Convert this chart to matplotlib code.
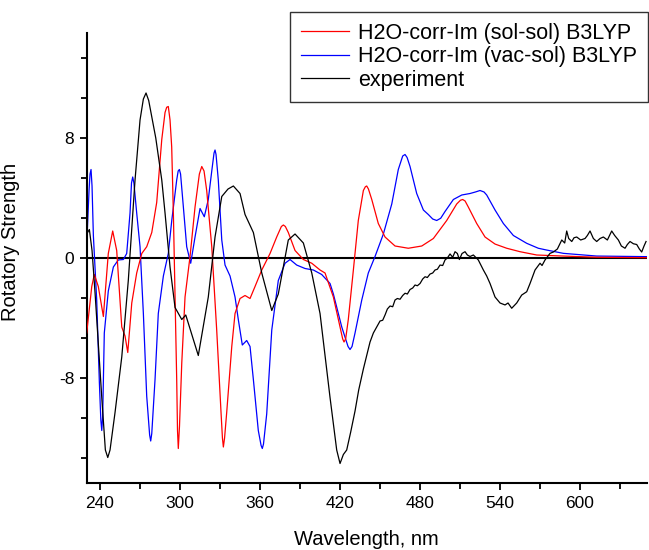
import matplotlib
matplotlib.use("Agg")
import matplotlib.pyplot as plt
from matplotlib.ticker import MultipleLocator, FixedLocator

# ---------------- data ----------------
wl_red = [230.0, 233.8, 235.7, 238.7, 242.5, 246.2, 249.5, 252.5, 256.3, 258.75,
          260.8, 263.8, 267.5, 271.3, 275.0, 278.8, 282.5, 286.3, 288.75, 290.0, 291.2,
          292.5, 293.75, 295.0, 297.5, 298.1, 298.7, 299.6, 301.3, 303.75, 307.5, 311.25,
          314.5, 316.3, 318.0, 320.0, 323.8,
          327.5, 330.75, 331.8, 332.5, 333.4, 335.0, 338.8, 341.25, 345.0, 348.75, 352.5, 356.25,
          361.3, 367.5, 372.5, 376.0, 377.5, 379.0, 381.2, 386.25, 392.5, 398.8, 405.0, 408.75,
          415.0, 420.0, 422.0, 423.0, 424.2, 426.2, 430.0, 433.7, 437.5, 439.0, 440.0, 441.3,
          443.8, 448.7,
          453.75, 461.25, 471.2, 481.3, 490.0, 500.0, 507.5, 510.3, 512.0, 513.8, 516.2, 522.5,
          528.75, 536.25, 545.0, 555.0, 567.5, 587.25, 612.5, 650.0]
rs_red = [-5.0, -1.9, -1.1, -1.9, -3.9, 0.3, 1.8, 0.5, -4.6, -5.2,
          -6.3, -3.0, -1.0, 0.3, 0.75, 1.7, 3.7, 7.9, 9.7, 10.05, 10.1,
          9.2, 7.4, 3.0, -8.1, -11.5, -12.7, -11.2, -7.0, -2.6, 0.1, 3.4,
          5.6, 6.1, 5.8, 4.5, 0.75,
          -4.8, -10.3, -12.0, -12.6, -12.0, -10.3, -5.9, -3.7, -2.7, -2.5, -2.7, -1.9,
          -0.8, 0.3, 1.4, 2.1, 2.2, 2.1, 1.7, 0.5, -0.1, -0.35, -0.8, -1.0,
          -2.6, -4.6, -5.4, -5.6, -5.4, -4.1, -0.8, 2.5, 4.5, 4.75, 4.8, 4.6,
          3.9, 2.3,
          1.4, 0.8, 0.65, 0.8, 1.3, 2.5, 3.6, 3.85, 3.9, 3.8, 3.4, 2.3,
          1.4, 0.93, 0.65, 0.42, 0.2, 0.13, 0.05, 0.02]

wl_blue = [230.5, 231.75, 232.5, 233.25, 234.0, 235.0, 237.5, 239.5, 240.6, 241.3, 242.0,
           243.2, 246.2, 250.0,
           253.7, 257.5, 260.0, 262.5, 263.6, 264.5, 265.4, 267.5, 270.0, 272.5, 275.0, 277.2,
           278.0, 278.8,
           281.25, 283.7, 287.5, 291.2, 293.8, 297.5, 298.6, 299.5, 300.4, 302.5, 305.0, 308.0,
           311.25, 315.0, 318.2, 321.2, 323.8, 325.5, 326.25, 327.0, 328.7, 331.3, 333.75, 337.5,
           341.25, 343.7, 346.7, 350.0, 352.5, 355.0, 358.7, 360.8, 361.7, 362.6, 365.0, 368.8,
           373.7, 378.75, 382.5, 387.5, 393.75, 400.0, 406.25, 412.5, 415.0, 421.3,
           426.0, 427.5, 429.0, 431.25, 436.3, 441.2, 446.25, 452.5, 458.8, 463.7, 467.0,
           468.75, 470.3, 472.5,
           477.5, 482.5, 486.2, 489.5, 492.5, 495.5, 498.75, 505.0, 511.3, 517.5, 521.5, 525.0,
           528.0, 530.0,
           536.25, 542.5, 550.0, 560.0, 568.7, 575.0, 587.5, 612.5, 650.0]
rs_blue = [1.9, 4.5, 5.6, 5.9, 4.8, 1.5, -2.8, -8.3, -10.8, -11.5, -10.5,
           -5.0, -2.2, -0.6,
           -0.13, -0.1, 0.3, 3.0, 5.0, 5.4, 5.0, 3.0, 0.75, -3.7, -9.2, -11.8,
           -12.2, -11.7,
           -8.1, -3.7, -1.2, 0.3, 2.5, 5.2, 5.8, 5.9, 5.6, 3.4, 0.75, -0.35,
           1.4, 3.3, 2.75, 3.9, 5.8, 7.0, 7.2, 6.9, 5.2, 1.2, -0.47, -1.2,
           -2.6, -4.1, -5.8, -5.5, -5.9, -8.1, -11.5, -12.5, -12.7, -12.4, -10.4, -4.8,
           -1.5, -0.35, -0.1, -0.47, -0.7, -0.8, -1.1, -1.7, -2.4, -4.6,
           -5.9, -6.1, -5.9, -5.0, -2.8, -1.0, 0.1, 1.6, 3.6, 5.9, 6.8,
           6.9, 6.7, 6.1,
           4.3, 3.2, 2.9, 2.6, 2.5, 2.65, 3.1, 3.9, 4.2, 4.3, 4.4, 4.5,
           4.4, 4.2,
           3.2, 2.3, 1.5, 0.98, 0.65, 0.53, 0.31, 0.13, 0.09]

wl_exp = [230.0, 232.0, 234.0, 236.25, 241.3, 244.0, 245.8, 247.5, 251.25, 256.3, 261.2,
          266.25, 270.0, 272.5, 274.5, 276.5, 278.8, 281.8, 286.3, 288.75, 292.5, 296.25,
          301.3, 304.3, 313.7, 321.2, 326.25, 331.3, 336.0, 340.0, 345.0, 348.75, 355.0,
          361.3, 368.8, 373.7, 381.2, 386.25, 392.5, 398.8, 405.0, 408.75, 412.5, 417.5,
          420.0, 422.5, 425.0, 428.0, 431.25, 434.0, 437.5, 440.0, 442.5, 445.0, 447.5, 450.0,
          452.0, 453.75, 455.5, 457.5, 459.5, 461.25, 463.0, 465.0, 467.0, 468.75, 470.5,
          472.5, 474.5, 476.25, 478.0, 480.0, 482.0, 483.75, 485.5, 487.5, 489.5, 491.25,
          493.0, 495.0, 497.0, 498.75, 500.5, 502.5, 504.5, 506.25, 508.0, 509.5, 511.5,
          513.75, 515.5, 517.5, 520.0, 523.7, 527.5, 530.0, 532.5, 536.25, 540.0, 543.75,
          546.0, 548.75, 552.5, 556.25, 560.0, 562.5, 566.25, 570.0, 571.5, 573.75, 577.5,
          580.0, 583.0, 586.3, 588.5, 590.0, 591.5, 593.8, 595.5, 597.5, 600.5, 603.75, 605.5,
          607.5, 610.0, 612.5, 615.0, 617.5, 620.5, 623.75, 626.0, 628.75, 631.0, 633.75,
          635.5, 637.5, 640.0, 642.5, 644.5, 646.25, 648.0, 649.5]
rs_exp = [1.6, 1.9, 0.5, -2.3, -9.3, -12.8, -13.3, -12.8, -10.3, -6.6, -1.5,
          5.2, 9.2, 10.6, 11.0, 10.5, 9.4, 8.0, 5.2, 3.0, -0.6, -3.3,
          -4.1, -3.8, -6.5, -2.6, 1.4, 4.1, 4.6, 4.8, 4.3, 2.9, 1.7,
          -1.0, -3.5, -2.4, 1.2, 1.6, 1.0, -1.0, -3.7, -6.5, -9.3, -12.8,
          -13.7, -13.1, -12.8, -11.6, -10.2, -8.8, -7.4, -6.5, -5.6, -5.0, -4.6, -4.2,
          -4.15, -3.8, -3.4, -3.2, -3.25, -2.8, -2.7, -2.75, -2.5, -2.35, -2.4,
          -2.1, -2.0, -1.8, -1.85, -1.7, -1.4, -1.25, -1.3, -1.07, -1.0, -0.8,
          -0.75, -0.47, -0.5, -0.13, 0.0, 0.27, 0.05, 0.42, 0.3, -0.1, 0.3,
          0.42, 0.2, 0.1, 0.2, -0.13, -0.8, -1.2, -1.7, -2.6, -3.0, -3.13,
          -3.0, -3.35, -3.0, -2.47, -2.25, -1.7, -0.8, -0.35, -0.5, -0.13, 0.31,
          0.4, 0.6, 1.2, 1.0, 1.8, 1.3, 1.1, 1.35, 1.4, 1.2, 1.3, 1.5,
          1.8, 1.3, 1.1, 1.3, 1.4, 1.2, 1.8, 1.5, 1.2, 0.8, 0.65,
          0.9, 1.1, 0.95, 0.9, 0.6, 0.4, 0.8, 1.1]

labels = ["H2O-corr-Im (sol-sol) B3LYP", "H2O-corr-Im (vac-sol) B3LYP", "experiment"]
x_label = "Wavelength, nm"
y_label = "Rotatory Strength"

# ---------------- figure ----------------
plt.rcParams['font.family'] = ['Liberation Sans', 'DejaVu Sans']
plt.rcParams['axes.unicode_minus'] = False
fig = plt.figure(figsize=(6.49, 5.5), dpi=100)
ax = fig.add_axes([86.7 / 649, 67 / 550, 560 / 649, 450 / 550])

ax.axhline(0, color='black', lw=1.5, zorder=1)
l1, = ax.plot(wl_red, rs_red, color='#ff0000', lw=0.9, zorder=3)
l2, = ax.plot(wl_blue, rs_blue, color='#0000ff', lw=0.9, zorder=2)
l3, = ax.plot(wl_exp, rs_exp, color='black', lw=0.9, zorder=4)

ax.set_xlim(230, 650)
ax.set_ylim(-15, 15)

ax.xaxis.set_major_locator(FixedLocator([240, 300, 360, 420, 480, 540, 600]))
ax.xaxis.set_minor_locator(FixedLocator([270, 330, 390, 450, 510, 570, 630]))
ax.yaxis.set_major_locator(MultipleLocator(8))
ax.yaxis.set_minor_locator(MultipleLocator(8 / 3))

for s in ['top', 'right']:
    ax.spines[s].set_visible(False)
for s in ['left', 'bottom']:
    ax.spines[s].set_linewidth(1.5)

ax.tick_params(axis='both', which='major', direction='out', length=5, width=1.3,
               labelsize=12.5, pad=4)
ax.tick_params(axis='both', which='minor', direction='out', length=4, width=1.3)

ax.set_xlabel(x_label, fontsize=14.5)
ax.set_ylabel(y_label, fontsize=14.5)
ax.xaxis.set_label_coords(0.5, -0.105)
ax.yaxis.set_label_coords(-0.119, 0.536)

leg = fig.legend([l1, l2, l3], labels, loc='upper right',
                 bbox_to_anchor=(648 / 649, 1 - 12 / 550),
                 fontsize=15.5, frameon=True, fancybox=False, handlelength=2.2,
                 handletextpad=0.45, borderpad=0.5, labelspacing=0.12,
                 borderaxespad=0)
leg.get_frame().set_edgecolor('black')
leg.get_frame().set_linewidth(1.0)

fig.savefig("out.png", dpi=100)
